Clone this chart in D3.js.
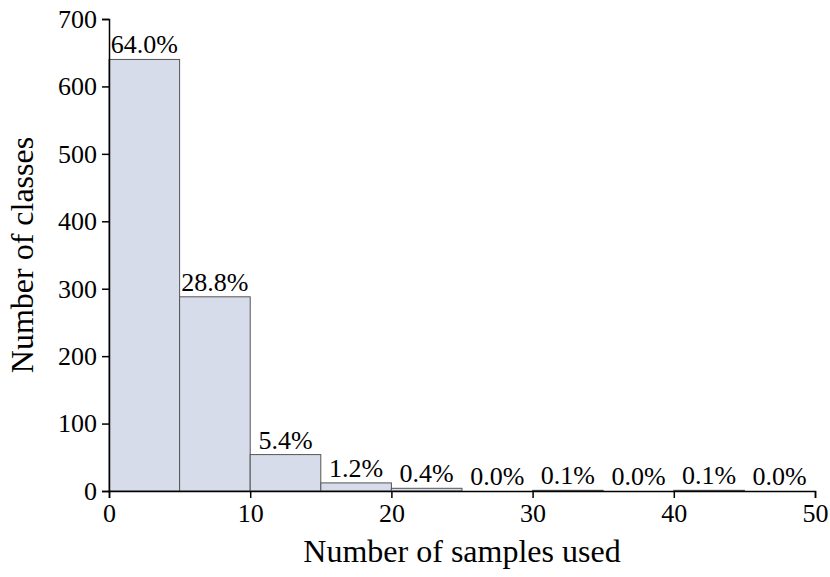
<!DOCTYPE html>
<html>
<head>
<meta charset="utf-8">
<script src="https://cdn.jsdelivr.net/npm/d3@7"></script>
<style>
  body { margin: 0; background: #fff; }
  text { font-family: "Liberation Serif", "Times New Roman", serif; fill: #000; }
</style>
</head>
<body>
<div id="chart"></div>
<script>
// histogram bins (left edges), counts, and labels
var binStarts = [0, 5, 10, 15, 20, 25, 30, 35, 40, 45];
var binWidth = 5;
var counts = [640, 288, 54, 12, 4, 0, 1, 0, 1, 0];
var pctLabels = ["64.0%", "28.8%", "5.4%", "1.2%", "0.4%", "0.0%", "0.1%", "0.0%", "0.1%", "0.0%"];
var xTicks = [0, 10, 20, 30, 40, 50];
var yTicks = [0, 100, 200, 300, 400, 500, 600, 700];

var margin = {top: 19, right: 15, bottom: 86, left: 109},
    width = 830 - margin.left - margin.right,
    height = 577 - margin.top - margin.bottom;

var svg = d3.select("#chart").append("svg")
    .attr("width", 830)
    .attr("height", 577)
    .append("g")
    .attr("transform", "translate(" + margin.left + "," + margin.top + ")");

var x = d3.scaleLinear().domain([0, 50]).range([0, width]);
var y = d3.scaleLinear().domain([0, 700]).range([height, 0]);

// bars
svg.selectAll(".bar")
    .data(counts)
    .enter().append("rect")
    .attr("class", "bar")
    .attr("x", function (d, i) { return x(binStarts[i]); })
    .attr("y", function (d) { return y(d); })
    .attr("width", function (d, i) { return x(binStarts[i] + binWidth) - x(binStarts[i]); })
    .attr("height", function (d) { return height - y(d); })
    .attr("fill", "#d7dceb")
    .attr("stroke", "#555")
    .attr("stroke-width", 1);

// percentage labels
svg.selectAll(".pct")
    .data(counts)
    .enter().append("text")
    .attr("class", "pct")
    .attr("x", function (d, i) { return x(binStarts[i] + binWidth / 2); })
    .attr("y", function (d) { return y(d) - 6; })
    .style("text-anchor", "middle")
    .style("font-size", "26px")
    .text(function (d, i) { return pctLabels[i]; });

// x axis
var xAxis = svg.append("g")
    .attr("transform", "translate(0," + height + ")");
xAxis.call(d3.axisBottom(x).tickValues(d3.range(5, 50, 10)).tickSize(4).tickFormat(""));
xAxis.call(d3.axisBottom(x).tickValues(xTicks).tickSize(7).tickPadding(6));
xAxis.selectAll("text").style("font-size", "26px");
xAxis.selectAll("path, line").attr("stroke", "#000").attr("stroke-width", 1.5);

// y axis
var yAxis = svg.append("g");
yAxis.call(d3.axisLeft(y).tickValues(d3.range(50, 700, 100)).tickSize(4).tickFormat(""));
yAxis.call(d3.axisLeft(y).tickValues(yTicks).tickSize(7).tickPadding(5));
yAxis.selectAll("text").style("font-size", "26px");
yAxis.selectAll("path, line").attr("stroke", "#000").attr("stroke-width", 1.5);

// text label for the x axis
svg.append("text")
    .attr("x", width / 2)
    .attr("y", height + 71)
    .style("text-anchor", "middle")
    .style("font-size", "32px")
    .text("Number of samples used");

// text label for the y axis
svg.append("text")
    .attr("transform", "rotate(-90)")
    .attr("x", -(height / 2))
    .attr("y", -76)
    .style("text-anchor", "middle")
    .style("font-size", "32px")
    .text("Number of classes");
</script>
</body>
</html>
